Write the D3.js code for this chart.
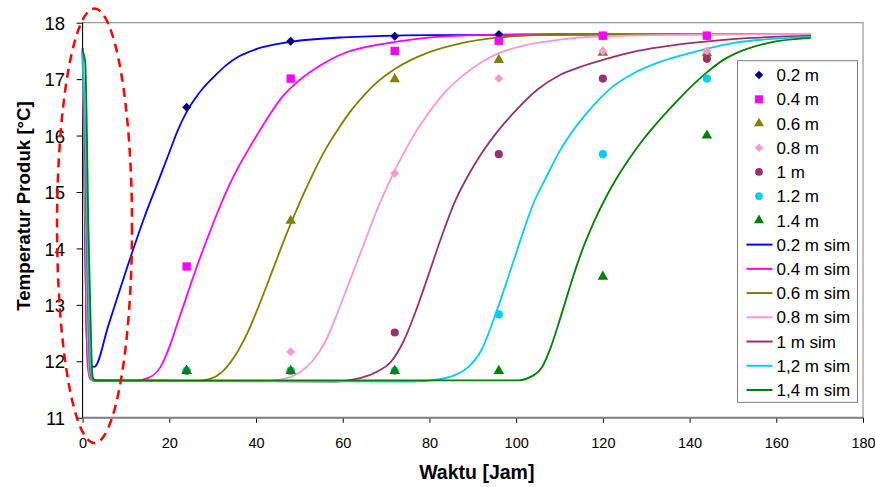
<!DOCTYPE html>
<html>
<head>
<meta charset="utf-8">
<script src="https://cdn.jsdelivr.net/npm/d3@7"></script>
<style>
    body { margin: 0; background: #fff; }
    text { font-family: Arial, 'Liberation Sans', sans-serif; }
</style>
</head>
<body>
<svg id="chart" width="875" height="487"></svg>
<script>
// measured points (hours / deg C)
const times = [24, 48, 72, 96, 120, 144];
const meas02 = [16.50, 17.67, 17.76, 17.79, 17.77, 17.77];
const meas04 = [13.68, 17.01, 17.50, 17.68, 17.77, 17.77];
const meas06 = [11.83, 14.49, 17.00, 17.34, 17.47, 17.46];
const meas08 = [11.83, 12.17, 15.33, 17.01, 17.50, 17.50];
const meas10 = [11.83, 11.83, 12.51, 15.67, 17.01, 17.36];
const meas12 = [11.83, 11.83, 11.83, 12.83, 15.67, 17.01];
const meas14 = [11.83, 11.83, 11.83, 11.83, 13.50, 16.00];
const measLabels = ['0.2 m', '0.4 m', '0.6 m', '0.8 m', '1 m', '1.2 m', '1.4 m'];

// simulation curves, [hour, temp]
const sim02 = [[0,17.55],[0.3,16.2],[0.6,14.0],[0.9,12.6],[1.3,12.0],[2.7,11.9],[6,12.65],[10,13.6],[14,14.5],
    [18,15.3],[20,15.7],[22,16.1],[24,16.42],[26,16.66],[28,16.86],[30,17.02],[33,17.24],[36,17.4],[40,17.53],
    [48,17.66],[60,17.74],[80,17.78],[168,17.8]];
const sim04 = [[0,17.5],[0.4,15.5],[0.8,13],[1.2,11.9],[1.8,11.68],[3,11.65],[12,11.65],[15,11.7],[18,11.9],
    [20,12.25],[22,12.7],[24,13.15],[26,13.6],[28,14.02],[30,14.42],[32,14.8],[34,15.15],[36,15.45],[38,15.72],
    [40,15.98],[43,16.35],[46,16.68],[50,16.98],[55,17.25],[60,17.45],[66,17.58],[72,17.66],[87,17.77],[110,17.8],[168,17.8]];
const sim06 = [[0,17.5],[0.5,15],[1,12.8],[1.5,11.8],[2.2,11.66],[26,11.65],[29,11.68],[32,11.8],[35,12.08],
    [38,12.5],[41,13.05],[44,13.65],[47,14.25],[50,14.8],[53,15.3],[56,15.75],[59,16.12],[62,16.45],[65,16.72],
    [68,16.95],[72,17.18],[76,17.35],[80,17.48],[87,17.63],[95,17.73],[105,17.78],[120,17.8],[168,17.8]];
const sim08 = [[0,17.5],[0.6,15.2],[1.1,12.9],[1.6,11.8],[2.3,11.66],[40,11.64],[46,11.68],[50,11.8],[53,12.0],
    [56,12.35],[59,12.9],[62,13.5],[65,14.1],[68,14.7],[71,15.22],[74,15.68],[77,16.08],[80,16.42],[84,16.8],
    [88,17.08],[92,17.3],[96,17.46],[102,17.6],[110,17.7],[120,17.76],[140,17.79],[168,17.8]];
const sim10 = [[0,17.5],[0.6,15.6],[1.2,13.2],[1.7,11.85],[2.4,11.66],[58,11.64],[64,11.7],[68,11.82],[71,11.98],
    [74,12.35],[77,12.92],[80,13.58],[83,14.25],[86,14.85],[89,15.3],[92,15.68],[96,16.1],[100,16.45],[105,16.82],
    [110,17.07],[115,17.22],[120,17.34],[128,17.5],[136,17.6],[150,17.71],[168,17.77]];
const sim12 = [[0,17.5],[0.7,15.8],[1.3,13.4],[1.8,11.9],[2.5,11.66],[76,11.64],[82,11.68],[86,11.76],[89,11.9],
    [92,12.2],[95,12.78],[98,13.45],[101,14.15],[104,14.8],[107,15.27],[110,15.72],[114,16.18],[118,16.55],
    [122,16.85],[127,17.1],[133,17.3],[140,17.46],[150,17.64],[168,17.75]];
const sim14 = [[0,17.5],[0.6,17.3],[1.0,16.0],[1.3,14.5],[1.7,13.2],[2.1,12.0],[2.4,11.7],[3,11.66],[100,11.66],
    [104,11.75],[106,11.9],[108,12.25],[110,12.72],[112,13.22],[114,13.7],[116,14.12],[118,14.48],[120,14.8],
    [123,15.22],[126,15.58],[129,15.9],[132,16.18],[136,16.52],[140,16.84],[144,17.12],[148,17.35],[152,17.5],
    [158,17.64],[168,17.73]];
const simLabels = ['0.2 m sim', '0.4 m sim', '0.6 m sim', '0.8 m sim', '1 m sim', '1,2 m sim', '1,4 m sim'];

const xTicks = [0, 20, 40, 60, 80, 100, 120, 140, 160, 180];
const yTicks = [11, 12, 13, 14, 15, 16, 17, 18];

// styles
const measColors = ['#000080', '#ff00ff', '#808000', '#ff99cc', '#993366', '#00ccff', '#008000'];
const simColors  = ['#0000ff', '#ff00ff', '#808000', '#ff99cc', '#993366', '#00ccff', '#008000'];
const measShapes = ['diamond', 'square', 'triangle', 'diamond', 'circle', 'circle', 'triangle'];

const measured = [meas02, meas04, meas06, meas08, meas10, meas12, meas14];
const simulated = [sim02, sim04, sim06, sim08, sim10, sim12, sim14];

const svg = d3.select('#chart');

let xScale = d3.scaleLinear().domain([0, 180]).range([82.6, 863]);
let yScale = d3.scaleLinear().domain([11, 18]).range([417.7, 22.7]);

// plot area frame
svg.append('rect')
    .attr('x', xScale(0)).attr('y', yScale(18))
    .attr('width', xScale(180) - xScale(0))
    .attr('height', yScale(11) - yScale(18))
    .attr('fill', 'none')
    .attr('stroke', '#808080')
    .attr('stroke-width', 1);

// axes
const yAxis = svg.append('g')
    .attr('transform', `translate(${xScale(0)},0)`)
    .call(d3.axisLeft(yScale).tickValues(yTicks).tickSize(6).tickFormat(d3.format('d')));
yAxis.select('.domain').remove();
yAxis.selectAll('text')
    .attr('x', -17.5)
    .attr('dy', '0.36em')
    .style('font-size', '18.5px')
    .attr('fill', '#000');

const xAxis = svg.append('g')
    .attr('transform', `translate(0,${yScale(11)})`)
    .call(d3.axisBottom(xScale).tickValues(xTicks).tickSize(5));
xAxis.select('.domain').remove();
xAxis.selectAll('text')
    .attr('y', 30)
    .attr('dy', null)
    .style('font-size', '14.5px')
    .attr('fill', '#000');

svg.append('line')
    .attr('x1', xScale(0)).attr('x2', xScale(180))
    .attr('y1', yScale(11)).attr('y2', yScale(11))
    .attr('stroke', '#808080').attr('stroke-width', 2);
svg.append('line')
    .attr('x1', xScale(0)).attr('x2', xScale(0))
    .attr('y1', yScale(11)).attr('y2', yScale(18))
    .attr('stroke', '#000').attr('stroke-width', 1);

// axis titles
svg.append('text')
    .attr('x', (xScale(0) + xScale(180)) / 2 + 4)
    .attr('y', 479)
    .attr('text-anchor', 'middle')
    .style('font-size', '19.5px')
    .style('font-weight', 'bold')
    .text('Waktu [Jam]');
svg.append('text')
    .attr('transform', 'translate(30,206) rotate(-90)')
    .attr('text-anchor', 'middle')
    .style('font-size', '18.7px')
    .style('font-weight', 'bold')
    .text('Temperatur Produk [°C]');

// simulation lines
const line = d3.line()
    .x(d => xScale(d[0]))
    .y(d => yScale(d[1]))
    .curve(d3.curveMonotoneX);

svg.append('g').selectAll('path')
    .data(simulated)
    .enter().append('path')
    .attr('d', line)
    .attr('fill', 'none')
    .attr('stroke', (d, i) => simColors[i])
    .attr('stroke-width', 1.8);

// marker shapes
const symbolFor = (shape, scale) => {
    const k = scale || 1;
    if (shape === 'diamond') return d3.symbol().type(d3.symbolSquare).size(40 * k)();
    if (shape === 'square') return d3.symbol().type(d3.symbolSquare).size(70 * k)();
    if (shape === 'triangle') return d3.symbol().type(d3.symbolTriangle).size(48 * k)();
    return d3.symbol().type(d3.symbolCircle).size(52 * k)();
};
const rotFor = shape => (shape === 'diamond') ? ' rotate(45)' : '';

measured.forEach((series, s) => {
    svg.append('g').selectAll('path')
        .data(series)
        .enter().append('path')
        .attr('d', symbolFor(measShapes[s]))
        .attr('transform', (d, i) => `translate(${xScale(times[i])},${yScale(d)})` + rotFor(measShapes[s]))
        .attr('fill', measColors[s]);
});

// legend
const legend = svg.append('g');
legend.append('rect')
    .attr('x', 737.5).attr('y', 60.7)
    .attr('width', 120).attr('height', 341.6)
    .attr('fill', '#fff')
    .attr('stroke', '#808080')
    .attr('stroke-width', 1);

const rowY = i => 75 + i * 24.23;

measLabels.forEach((label, i) => {
    legend.append('path')
        .attr('d', symbolFor(measShapes[i], 0.9))
        .attr('transform', `translate(759,${rowY(i)})` + rotFor(measShapes[i]))
        .attr('fill', measColors[i]);
    legend.append('text')
        .attr('x', 776.5).attr('y', rowY(i))
        .attr('dy', '0.36em')
        .style('font-size', '17px')
        .text(label);
});
simLabels.forEach((label, i) => {
    const yy = rowY(i + 7);
    legend.append('line')
        .attr('x1', 746.5).attr('x2', 772.5)
        .attr('y1', yy).attr('y2', yy)
        .attr('stroke', simColors[i])
        .attr('stroke-width', 2);
    legend.append('text')
        .attr('x', 776.5).attr('y', yy)
        .attr('dy', '0.36em')
        .style('font-size', '17px')
        .text(label);
});

// red dashed ellipse around the initial drop
const ringCenter = [2.75, 14.40];
const ringRadius = [8.65, 3.85];
svg.append('ellipse')
    .attr('cx', xScale(ringCenter[0]))
    .attr('cy', yScale(ringCenter[1]))
    .attr('rx', xScale(ringCenter[0] + ringRadius[0]) - xScale(ringCenter[0]))
    .attr('ry', yScale(ringCenter[1] - ringRadius[1]) - yScale(ringCenter[1]))
    .attr('fill', 'none')
    .attr('stroke', '#ff0000')
    .attr('stroke-width', 2.5)
    .attr('stroke-dasharray', '9,6');
</script>
</body>
</html>
